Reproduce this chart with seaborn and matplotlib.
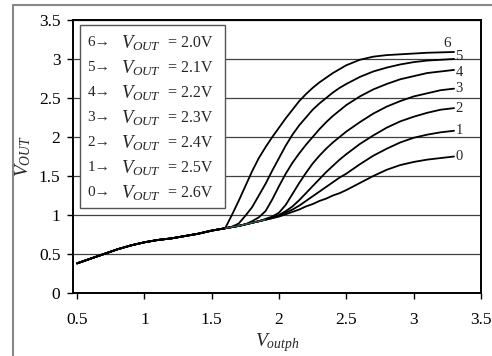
import matplotlib
matplotlib.use('Agg')
import matplotlib.pyplot as plt
from matplotlib.lines import Line2D
from matplotlib.patches import Rectangle
import pandas as pd
import seaborn as sns

# shared low-voltage part (all curves overlap here)
BASE_X = [0.5, 0.6, 0.7, 0.8, 0.9, 1.0, 1.1, 1.2, 1.3, 1.4, 1.5, 1.6]
BASE_Y = [0.38, 0.44, 0.50, 0.56, 0.61, 0.65, 0.68, 0.70, 0.73, 0.76, 0.80, 0.83]

TAIL_X = [1.65, 1.7, 1.75, 1.8, 1.85, 1.9, 1.95, 2.0, 2.05, 2.1, 2.15, 2.2,
          2.25, 2.3, 2.35, 2.4, 2.45, 2.5,
          2.6, 2.7, 2.8, 2.9, 3.0, 3.1, 3.2, 3.3]
CURVE_6 = [1.00, 1.18, 1.37, 1.56, 1.73, 1.87, 2.00, 2.12, 2.24, 2.35, 2.46, 2.55,
           2.63, 2.70, 2.76, 2.82, 2.87, 2.92,
           2.99, 3.03, 3.05, 3.06, 3.07, 3.08, 3.085, 3.09]
CURVE_5 = [0.85, 0.89, 0.99, 1.10, 1.25, 1.40, 1.57, 1.73, 1.89, 2.03, 2.15, 2.25,
           2.35, 2.43, 2.50, 2.57, 2.63, 2.68,
           2.77, 2.84, 2.89, 2.93, 2.96, 2.98, 2.99, 3.00]
CURVE_4 = [0.845, 0.86, 0.88, 0.92, 0.97, 1.05, 1.20, 1.37, 1.53, 1.67, 1.79, 1.90,
           2.00, 2.10, 2.19, 2.27, 2.34, 2.41,
           2.52, 2.61, 2.68, 2.74, 2.78, 2.82, 2.84, 2.86]
CURVE_3 = [0.845, 0.86, 0.88, 0.90, 0.92, 0.95, 0.98, 1.03, 1.13, 1.27, 1.41, 1.54,
           1.66, 1.76, 1.85, 1.93, 2.00, 2.07,
           2.19, 2.30, 2.39, 2.46, 2.52, 2.56, 2.60, 2.62]
CURVE_2 = [0.845, 0.86, 0.88, 0.90, 0.92, 0.94, 0.97, 1.00, 1.05, 1.11, 1.19, 1.28,
           1.37, 1.46, 1.55, 1.63, 1.71, 1.78,
           1.91, 2.02, 2.12, 2.20, 2.26, 2.31, 2.35, 2.37]
CURVE_1 = [0.845, 0.86, 0.88, 0.90, 0.92, 0.94, 0.96, 0.99, 1.03, 1.07, 1.12, 1.18,
           1.24, 1.30, 1.36, 1.42, 1.48, 1.53,
           1.65, 1.76, 1.85, 1.93, 1.99, 2.03, 2.06, 2.08]
CURVE_0 = [0.845, 0.86, 0.88, 0.90, 0.92, 0.94, 0.96, 0.98, 1.01, 1.04, 1.07, 1.11,
           1.14, 1.18, 1.21, 1.25, 1.28, 1.32,
           1.41, 1.50, 1.58, 1.64, 1.68, 1.71, 1.73, 1.75]

CURVE_IDS = [6, 5, 4, 3, 2, 1, 0]
VOUT_SET = [2.0, 2.1, 2.2, 2.3, 2.4, 2.5, 2.6]
CURVES = [CURVE_6, CURVE_5, CURVE_4, CURVE_3, CURVE_2, CURVE_1, CURVE_0]

rows = []
for cid, tail in zip(CURVE_IDS, CURVES):
    for x, y in zip(BASE_X + TAIL_X, BASE_Y + tail):
        rows.append({'curve': cid, 'Voutph': x, 'Vout': y})
df = pd.DataFrame(rows)

sns.set_theme(style='white')
plt.rcParams['font.family'] = ['Liberation Serif', 'DejaVu Serif']
plt.rcParams['mathtext.fontset'] = 'custom'
plt.rcParams['mathtext.rm'] = 'Liberation Serif'
plt.rcParams['mathtext.it'] = 'Liberation Serif:italic'

fig = plt.figure(figsize=(4.92, 3.56), dpi=100)
ax = fig.add_axes([73 / 492, 63 / 356, 408 / 492, 273 / 356])

sns.lineplot(data=df, x='Voutph', y='Vout', hue='curve', palette=['black'] * 7,
             legend=False, lw=1.3, ax=ax, zorder=3)

# faint coloured traces visible in the overlapping bundle
for cid, col in zip([0, 1, 2], ['#c00000', '#2030c0', '#208020']):
    sub = df[(df.curve == cid) & (df.Voutph >= 1.6) & (df.Voutph <= 1.9)]
    ax.plot(sub.Voutph, sub.Vout, color=col, lw=0.8, alpha=0.7, zorder=4)

ax.set_xlim(0.47, 3.5)
ax.set_ylim(0, 3.5)
ax.set_xticks([0.5, 1, 1.5, 2, 2.5, 3, 3.5])
ax.set_xticklabels(['0.5', '1', '1.5', '2', '2.5', '3', '3.5'])
ax.set_yticks([0, 0.5, 1, 1.5, 2, 2.5, 3, 3.5])
ax.set_yticklabels(['0', '0.5', '1', '1.5', '2', '2.5', '3', '3.5'])
ax.tick_params(axis='both', labelsize=12.5, colors='black', length=4, width=1,
               direction='out', bottom=True, left=True, pad=5)
ax.tick_params(axis='x', pad=10)
ax.yaxis.grid(True, color='#404040', lw=0.9)
ax.xaxis.grid(False)
for s in ax.spines.values():
    s.set_color('black')
    s.set_linewidth(1.4)

ax.set_xlabel(r'$V_{outph}$', fontsize=14, labelpad=2)
ax.set_ylabel(r'$V_{OUT}$', fontsize=14, labelpad=4)

# curve numbers at the right ends
label_dy = {6: 0.0, 5: 0.03, 4: -0.03}
for cid, tail in zip(CURVE_IDS, CURVES):
    if cid == 6:
        ax.text(TAIL_X[-1] - 0.08, tail[-1] + 0.03, str(cid), fontsize=11,
                ha='left', va='bottom')
    else:
        ax.text(TAIL_X[-1] + 0.01, tail[-1] + label_dy.get(cid, 0), str(cid),
                fontsize=10.5, ha='left', va='center')

# legend-like box
ax.add_patch(Rectangle((0.017, 0.311), 0.356, 0.671, transform=ax.transAxes,
                       facecolor='white', edgecolor='#555555', lw=1, zorder=5))
for i, (cid, v) in enumerate(zip(CURVE_IDS, VOUT_SET)):
    yy = 0.916 - i * 0.0916
    ax.text(0.035, yy, f'{cid}\u2192', transform=ax.transAxes, fontsize=11,
            va='center', ha='left', zorder=6)
    ax.text(0.118, yy, r'$V_{OUT}$', transform=ax.transAxes, fontsize=13.5,
            va='center', ha='left', zorder=6)
    ax.text(0.232, yy, f'= {v:.1f}V', transform=ax.transAxes, fontsize=11.5,
            va='center', ha='left', zorder=6)

# outer frame of the figure
fig.add_artist(Line2D([13 / 492, 1], [1 - 5 / 356] * 2, color='#888888', lw=1.5))
fig.add_artist(Line2D([13 / 492] * 2, [0, 1 - 5 / 356], color='#888888', lw=1.5))

fig.savefig('out.png', dpi=100)
